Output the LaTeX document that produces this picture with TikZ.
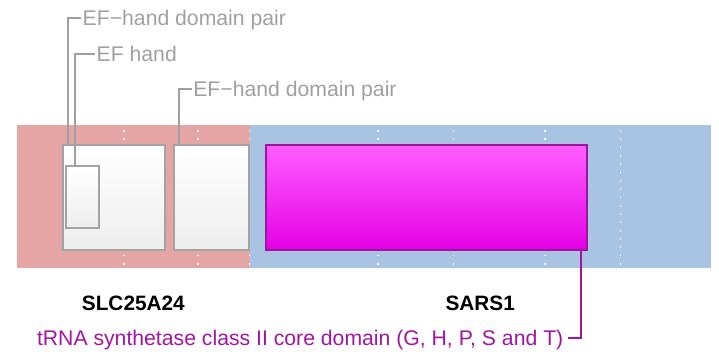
\documentclass[tikz,border=0pt]{standalone}
\usepackage{fontspec}
\setmainfont{Liberation Sans}
\usepackage{xcolor}
\usetikzlibrary{positioning, calc}
\definecolor{slcpink}{HTML}{E6A5A5}
\definecolor{sarsblue}{HTML}{A8C4E2}
\definecolor{domgray}{HTML}{A3A3A3}
\definecolor{leadgray}{HTML}{A0A0A0}
\definecolor{domedge}{HTML}{9A169A}
\definecolor{domtop}{HTML}{FF5EFF}
\definecolor{dombot}{HTML}{E600E6}
\definecolor{trnatext}{HTML}{A016A0}
\tikzset{
  band/.style={rectangle, draw=none, anchor=north west,
    minimum height=142.5pt, inner sep=0pt},
  efbox/.style={rectangle, draw=domgray, line width=2pt, anchor=north west,
    inner sep=0pt, top color=white, middle color=white, bottom color=black!7},
  trnabox/.style={rectangle, draw=domedge, line width=2pt, anchor=north west,
    inner sep=0pt, top color=domtop, bottom color=dombot},
  grid/.style={draw=white, line width=1.6pt, dash pattern=on 1.8pt off 6.5pt},
  lbl/.style={font=\fontsize{21.2}{25}\selectfont, text height=14.9pt,
    text depth=0pt, inner sep=1.5pt},
  efname/.style={lbl, text=leadgray, anchor=west},
  protname/.style={lbl, font=\fontsize{20.8}{25}\selectfont\bfseries},
  leader/.style={draw=leadgray, line width=2pt},
  mleader/.style={draw=trnatext, line width=2pt},
}

\begin{document}
\begin{tikzpicture}[x=1pt, y=-1pt]
    \useasboundingbox (0,0) rectangle (719,358);

    % protein bands
    \node[band, fill=slcpink,  minimum width=232.3pt] (slc)  at (17,125)    {};
    \node[band, fill=sarsblue, minimum width=461.4pt] (sars) at (249.3,125) {};

    % white dotted grid
    \foreach \gx in {124, 197.7, 249.3, 377.7, 453.3, 545, 620.3}
      \draw[grid] (\gx,130.1) -- (\gx,267.5);

    % domains
    \node[efbox, minimum width=102.6pt, minimum height=104.8pt] (efpairA) at (61.7,143.7) {};
    \node[efbox, minimum width=33pt,    minimum height=62.6pt]  (efhand)  at (65.3,164.7) {};
    \node[efbox, minimum width=75.6pt,  minimum height=104.8pt] (efpairB) at (172.7,143.7) {};
    \node[trnabox, minimum width=321pt, minimum height=104.8pt] (trna)    at (265,143.7) {};

    % domain labels
    \node[efname] (lblA) at (81,18.3)  {EF\textminus hand domain pair};
    \node[efname] (lblB) at (95,54.2)  {EF hand};
    \node[efname] (lblC) at (191.6,89.3) {EF\textminus hand domain pair};
    \node[lbl, text=trnatext, anchor=east, inner xsep=4.5pt] (lblT) at (568,338.3)
      {tRNA synthetase class II core domain (G, H, P, S and T)};

    \draw[leader]  ([xshift=6.6pt]efpairA.north west) |- (lblA.west);
    \draw[leader]  ([xshift=9.7pt]efhand.north west)  |- (lblB.west);
    \draw[leader]  ([xshift=6.3pt]efpairB.north west) |- (lblC.west);
    \draw[mleader] ([xshift=-7.3pt]trna.south east)   |- (lblT.east);

    % protein names
    \node[protname] (slcname)  at ([yshift=-35.5pt]slc.south)  {SLC25A24};
    \node[protname] (sarsname) at ([yshift=-35.5pt]sars.south) {SARS1};
  \end{tikzpicture}
\end{document}
